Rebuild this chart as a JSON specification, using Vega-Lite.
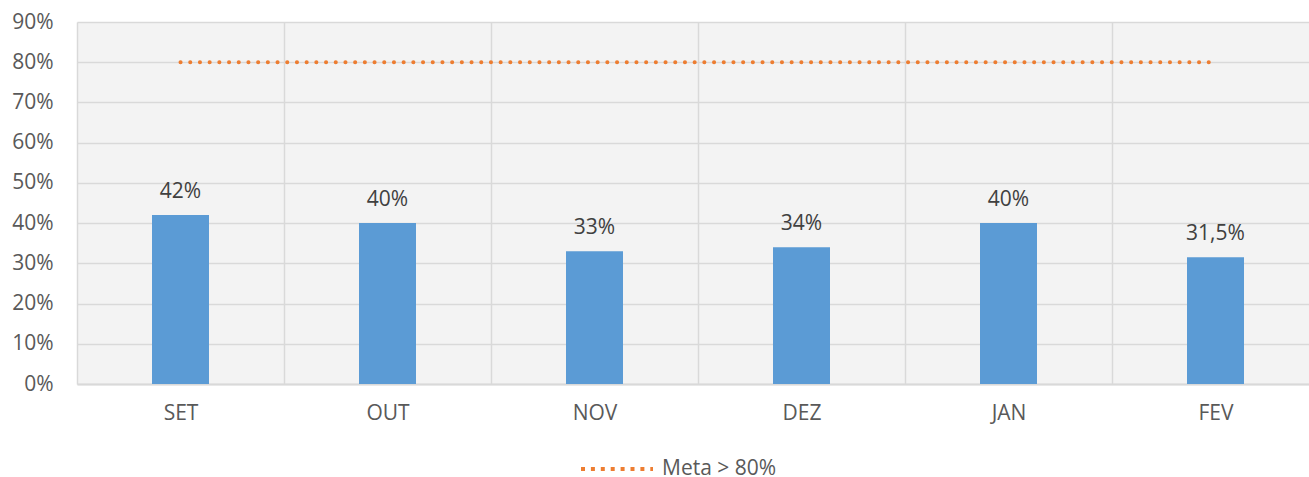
{
  "$schema": "https://vega.github.io/schema/vega-lite/v6.json",
  "autosize": {"type": "none"},
  "padding": {"left": 77, "top": 22, "right": 0, "bottom": 93},
  "width": 1232,
  "height": 362,
  "background": "white",
  "config": {
    "view": {"stroke": null, "fill": "#f3f3f3"},
    "font": "Open Sans"
  },
  "data": {
    "values": [
      {"month": "SET", "value": 0.42, "label": "42%", "meta": 0.8, "series": "Meta > 80%"},
      {"month": "OUT", "value": 0.40, "label": "40%", "meta": 0.8, "series": "Meta > 80%"},
      {"month": "NOV", "value": 0.33, "label": "33%", "meta": 0.8, "series": "Meta > 80%"},
      {"month": "DEZ", "value": 0.34, "label": "34%", "meta": 0.8, "series": "Meta > 80%"},
      {"month": "JAN", "value": 0.40, "label": "40%", "meta": 0.8, "series": "Meta > 80%"},
      {"month": "FEV", "value": 0.315, "label": "31,5%", "meta": 0.8, "series": "Meta > 80%"}
    ]
  },
  "encoding": {
    "x": {
      "field": "month",
      "type": "nominal",
      "sort": null,
      "title": null,
      "scale": {"range": [0, 1242], "paddingInner": 0, "paddingOuter": 0},
      "axis": {
        "labelAngle": 0,
        "labelFontSize": 21,
        "labelColor": "#595959",
        "labelPadding": 18,
        "ticks": false,
        "grid": true,
        "gridColor": "#d9d9d9",
        "gridWidth": 1.5,
        "tickBand": "extent",
        "domainColor": "#d9d9d9",
        "domainWidth": 2
      }
    }
  },
  "layer": [
    {
      "mark": {"type": "bar", "color": "#5B9BD5", "size": 57},
      "encoding": {
        "y": {
          "field": "value",
          "type": "quantitative",
          "title": null,
          "scale": {"domain": [0, 0.9], "nice": false},
          "axis": {
            "values": [0, 0.1, 0.2, 0.3, 0.4, 0.5, 0.6, 0.7, 0.8, 0.9],
            "format": ".0%",
            "labelFontSize": 21,
            "labelColor": "#595959",
            "labelPadding": 24,
            "ticks": false,
            "domain": false,
            "gridColor": "#d9d9d9",
            "gridWidth": 1.5
          }
        }
      }
    },
    {
      "mark": {"type": "text", "fontSize": 21, "color": "#404040", "baseline": "alphabetic", "dy": -17},
      "encoding": {
        "y": {"field": "value", "type": "quantitative"},
        "text": {"field": "label"}
      }
    },
    {
      "mark": {"type": "line", "strokeWidth": 4, "strokeCap": "round", "strokeDash": [0.1, 9.6]},
      "encoding": {
        "y": {"field": "meta", "type": "quantitative"},
        "color": {
          "field": "series",
          "type": "nominal",
          "scale": {"range": ["#ED7D31"]},
          "legend": {
            "title": null,
            "orient": "none",
            "legendX": 502,
            "legendY": 409,
            "symbolType": "stroke",
            "symbolSize": 5184,
            "symbolStrokeWidth": 4,
            "symbolDash": [4, 5.9],
            "symbolOffset": 0,
            "labelFontSize": 21,
            "labelColor": "#595959",
            "labelOffset": 7
          }
        }
      }
    }
  ]
}
